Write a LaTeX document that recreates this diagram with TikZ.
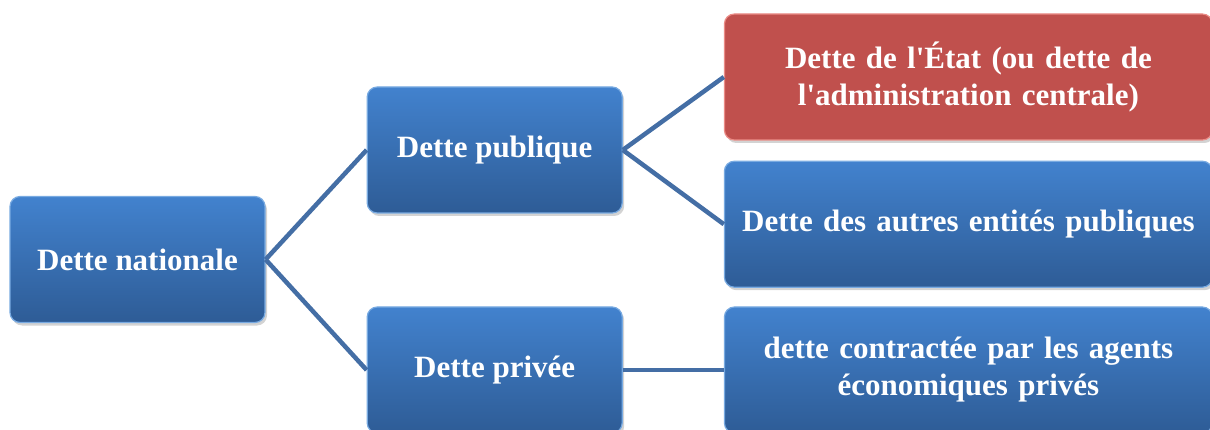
\documentclass[tikz,border=0pt]{standalone}
\usepackage{fontspec}
\setmainfont{Liberation Serif}
\usepackage{xcolor}
\usetikzlibrary{positioning,shadows}

\definecolor{boxtop}{RGB}{66,130,206}
\definecolor{boxbot}{RGB}{46,92,150}
\definecolor{boxrim}{RGB}{120,170,225}
\definecolor{redfill}{RGB}{192,80,77}
\definecolor{redrim}{RGB}{235,140,135}
\definecolor{linkcol}{RGB}{68,110,165}

\begin{document}
\begin{tikzpicture}[
    x=1pt, y=1pt,
    node distance=20pt and 101pt, % gaps between columns and rows
    box/.style={rectangle, rounded corners=10pt, draw=boxrim, line width=1.2pt,
      top color=boxtop, bottom color=boxbot, text=white, align=center,
      font=\bfseries\fontsize{31}{37}\selectfont,
      minimum width=255pt, minimum height=126pt, inner sep=4pt,
      drop shadow={opacity=0.35, shadow xshift=2pt, shadow yshift=-3pt}},
    wide/.style={box, minimum width=488pt, text width=470pt},
    hot/.style={wide, draw=redrim, top color=redfill, bottom color=redfill},
    link/.style={draw=linkcol, line width=4.5pt}
  ]
    \useasboundingbox (0,0) rectangle (1210,-430);

    % Left and middle columns
    \node[box] (nationale) at (137.5,-259.5) {Dette nationale};
    \node[box, right=of nationale, yshift=109.5pt] (publique) {Dette publique};
    \node[box, right=of nationale, yshift=-110.5pt] (privee) {Dette privée};

    % Right column
    \node[hot, right=of publique, yshift=73pt] (etat) {Dette de l\textquotesingle État (ou dette de\\ l\textquotesingle administration centrale)};
    \node[wide, below=of etat] (autres) {Dette des autres entités publiques};
    \node[wide, right=of privee] (agents) {dette contractée par les agents\\ économiques privés};

    % Connections
    \draw[link] (nationale.east) -- (publique.west);
    \draw[link] (nationale.east) -- (privee.west);
    \draw[link] (publique.east) -- (etat.west);
    \draw[link] (publique.east) -- (autres.west);
    \draw[link] (privee.east) -- (agents.west);

\end{tikzpicture}
\end{document}
